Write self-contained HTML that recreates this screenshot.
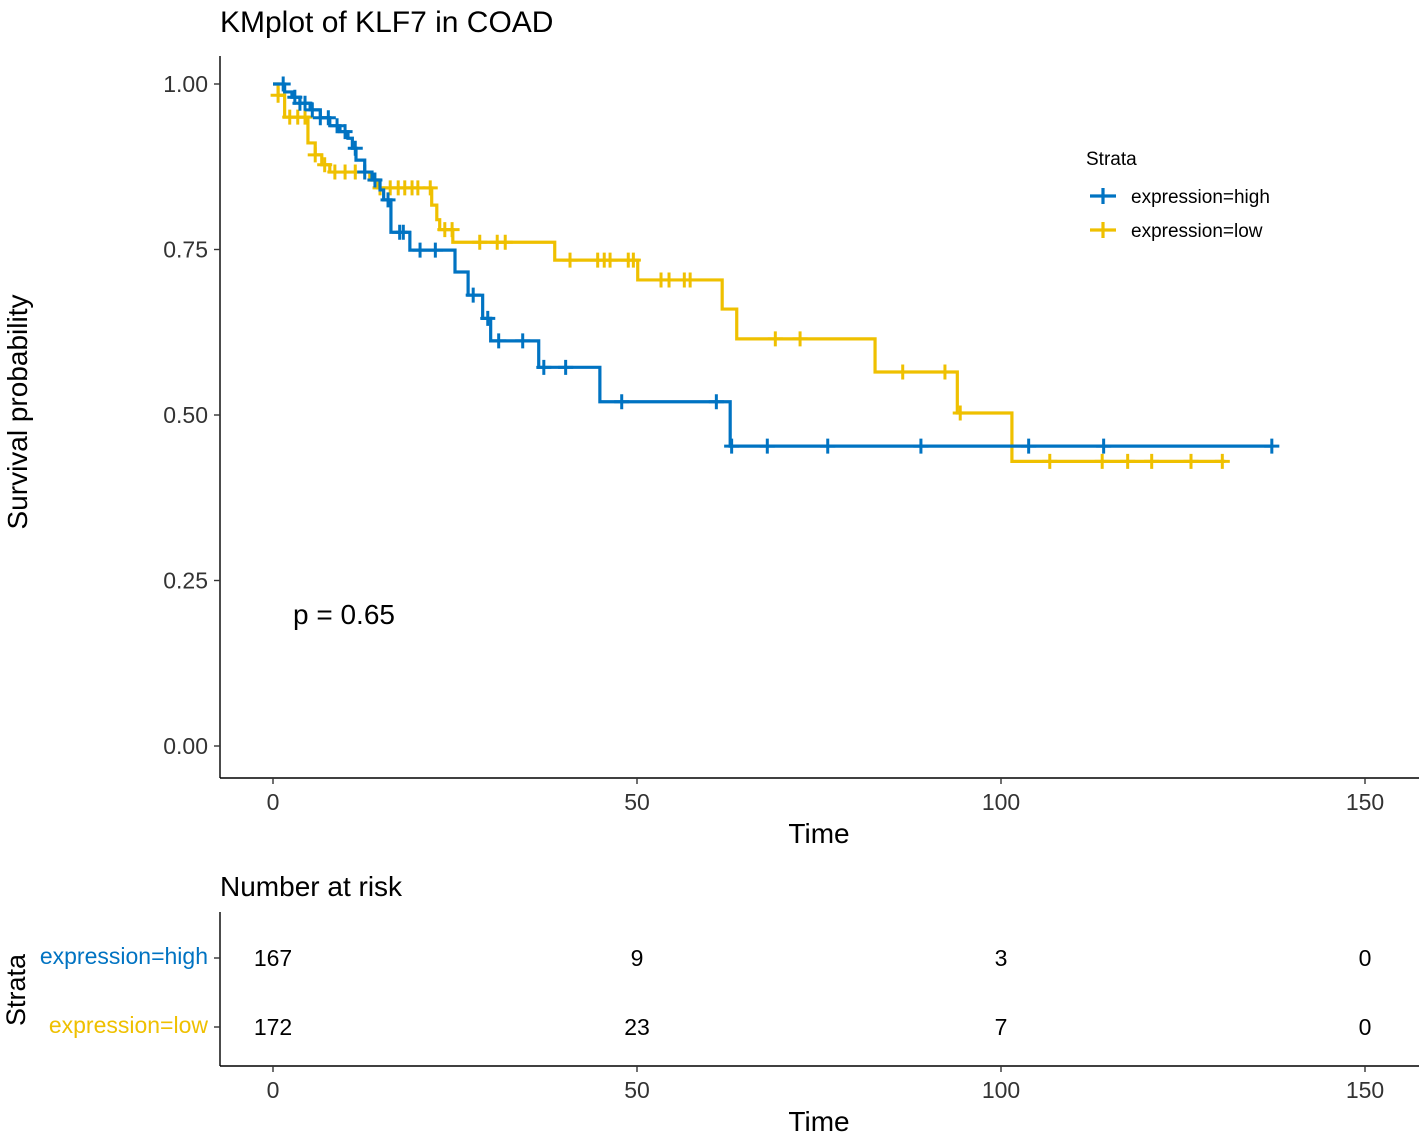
<!DOCTYPE html>
<html><head><meta charset="utf-8"><style>
html,body{margin:0;padding:0;background:#fff;}
svg{display:block;font-family:"Liberation Sans",Arial,sans-serif;}
</style></head><body>
<svg id="chart" width="1426" height="1137" viewBox="0 0 1426 1137">
<g id="main"></g>
</svg>
<script>
const highTimes=[0,1.6,2.6,3.7,5.1,6.5,7.8,9.2,10.3,10.9,11.4,12.6,13.6,14.7,15.2,16.2,18.8,25.0,26.8,28.8,29.9,36.5,44.9,62.8];
const highSurv=[1.0,0.988,0.980,0.971,0.961,0.949,0.937,0.928,0.918,0.903,0.885,0.867,0.855,0.840,0.825,0.776,0.749,0.716,0.681,0.646,0.612,0.572,0.520,0.453];
const highEnd=137.4;
const highCensor=[1.4,3.0,3.7,4.4,5.4,6.5,7.6,8.8,9.9,11.3,12.6,14.0,15.8,17.4,17.9,20.2,22.3,27.5,29.5,31.0,34.3,37.2,40.2,47.9,60.9,63.0,67.9,76.2,89.0,103.8,114.1,137.2];
const lowTimes=[0,0.7,1.6,4.8,5.8,6.7,7.8,13.3,14.4,21.8,22.5,22.9,24.7,38.7,50.1,61.7,63.7,82.7,94.0,101.5];
const lowSurv=[1.0,0.983,0.950,0.911,0.893,0.878,0.867,0.855,0.843,0.817,0.795,0.780,0.761,0.734,0.704,0.660,0.615,0.565,0.503,0.430];
const lowEnd=130.8;
const lowCensor=[0.7,2.3,3.4,4.4,5.8,7.1,8.5,9.9,11.3,14.7,16.1,17.2,18.1,19.1,19.9,21.6,23.6,24.6,28.4,30.8,31.9,40.8,44.6,45.5,46.3,48.8,49.5,53.3,54.4,56.5,57.3,69.0,72.4,86.5,92.3,94.4,106.7,113.9,117.4,120.7,126.1,130.4];
const xTicks=[0,50,100,150];
const yTicks=[0,0.25,0.5,0.75,1.0];
const yTickLabels=["0.00","0.25","0.50","0.75","1.00"];
const riskHigh=[167,9,3,0];
const riskLow=[172,23,7,0];
const strataNames=["expression=high","expression=low"];
const pValueText="p = 0.65";

const BLUE="#0073C2",YEL="#EFC000";
const X=t=>273+t*7.28;
const Y=s=>746-s*662;
const NS="http://www.w3.org/2000/svg";
const root=document.getElementById('main');
function mk(tag,attrs,parent,text){const e=document.createElementNS(NS,tag);for(const k in attrs)e.setAttribute(k,attrs[k]);if(text!==undefined)e.textContent=text;(parent||root).appendChild(e);return e;}
function stepAt(times,surv,t){let s=surv[0];for(let i=0;i<times.length;i++){if(times[i]<=t)s=surv[i];}return s;}

let el=mk('text',{x:220,y:32,'font-size':30,fill:'#000'},root,'KMplot of KLF7 in COAD');


el=mk('line',{x1:220,y1:56,x2:220,y2:778,stroke:'#000','stroke-width':1.4});


el=mk('line',{x1:220,y1:778,x2:1419,y2:778,stroke:'#000','stroke-width':1.4});


yTicks.forEach((v,i)=>{
  mk('line',{x1:214,y1:Y(v),x2:220,y2:Y(v),stroke:'#333','stroke-width':1.4});
  const t=mk('text',{x:208,y:Y(v)+8,'font-size':23,'text-anchor':'end',fill:'#333'},root,yTickLabels[i]);
  
  
});
xTicks.forEach(v=>{
  mk('line',{x1:X(v),y1:778,x2:X(v),y2:784,stroke:'#333','stroke-width':1.4});
  const t=mk('text',{x:X(v),y:810,'font-size':23,'text-anchor':'middle',fill:'#333'},root,v);
  
  
});
el=mk('text',{x:819,y:843,'font-size':28,'text-anchor':'middle',fill:'#000'},root,'Time');


el=mk('text',{x:0,y:0,'font-size':28,'text-anchor':'middle',fill:'#000',transform:'translate(27,412) rotate(-90)'},root,'Survival probability');



function curve(times,surv,end,cens,color,name){
  let d='M'+X(times[0])+','+Y(surv[0]);
  for(let i=1;i<times.length;i++){d+=' H'+X(times[i])+' V'+Y(surv[i]);}
  d+=' H'+X(end);
  const p=mk('path',{d:d,fill:'none',stroke:color,'stroke-width':3.2});
  
  
  cens.forEach(t=>{
    const cx=X(t),cy=Y(stepAt(times,surv,t));
    const c=mk('path',{d:`M${cx-7.5},${cy} H${cx+7.5} M${cx},${cy-7.5} V${cy+7.5}`,stroke:color,'stroke-width':3});
    
    
  });
}
curve(lowTimes,lowSurv,lowEnd,lowCensor,YEL,'low');
curve(highTimes,highSurv,highEnd,highCensor,BLUE,'high');

el=mk('text',{x:293,y:624,'font-size':28,fill:'#000'},root,pValueText);



el=mk('text',{x:1086,y:165,'font-size':19,fill:'#000'},root,'Strata');


[[BLUE,196],[YEL,230]].forEach((c,i)=>{
  const g=mk('g',{});
  
  
  mk('path',{d:`M1090,${c[1]} H1116 M1103,${c[1]-8} V${c[1]+8}`,stroke:c[0],'stroke-width':3.2},g);
  mk('text',{x:1131,y:c[1]+7,'font-size':19,fill:'#000'},g,strataNames[i]);
});

el=mk('text',{x:220,y:896,'font-size':28,fill:'#000'},root,'Number at risk');


mk('line',{x1:220,y1:912,x2:220,y2:1066,stroke:'#000','stroke-width':1.4});
mk('line',{x1:220,y1:1066,x2:1419,y2:1066,stroke:'#000','stroke-width':1.4});
[[riskHigh,958,BLUE],[riskLow,1027,YEL]].forEach((r,i)=>{
  mk('line',{x1:214,y1:r[1],x2:220,y2:r[1],stroke:'#333','stroke-width':1.4});
  const lab=mk('text',{x:208,y:r[1]+6,'font-size':23,'text-anchor':'end',fill:r[2]},root,strataNames[i]);
  
  
  r[0].forEach((n,j)=>{
    const t=mk('text',{x:X(xTicks[j]),y:r[1]+8,'font-size':23,'text-anchor':'middle',fill:'#000'},root,n);
    
    
  });
});
xTicks.forEach(v=>{
  mk('line',{x1:X(v),y1:1066,x2:X(v),y2:1072,stroke:'#333','stroke-width':1.4});
  const t=mk('text',{x:X(v),y:1098,'font-size':23,'text-anchor':'middle',fill:'#333'},root,v);
  
  
});
el=mk('text',{x:819,y:1131,'font-size':28,'text-anchor':'middle',fill:'#000'},root,'Time');


el=mk('text',{x:0,y:0,'font-size':27,'text-anchor':'middle',fill:'#000',transform:'translate(25,990) rotate(-90)'},root,'Strata');


</script>
</body></html>
